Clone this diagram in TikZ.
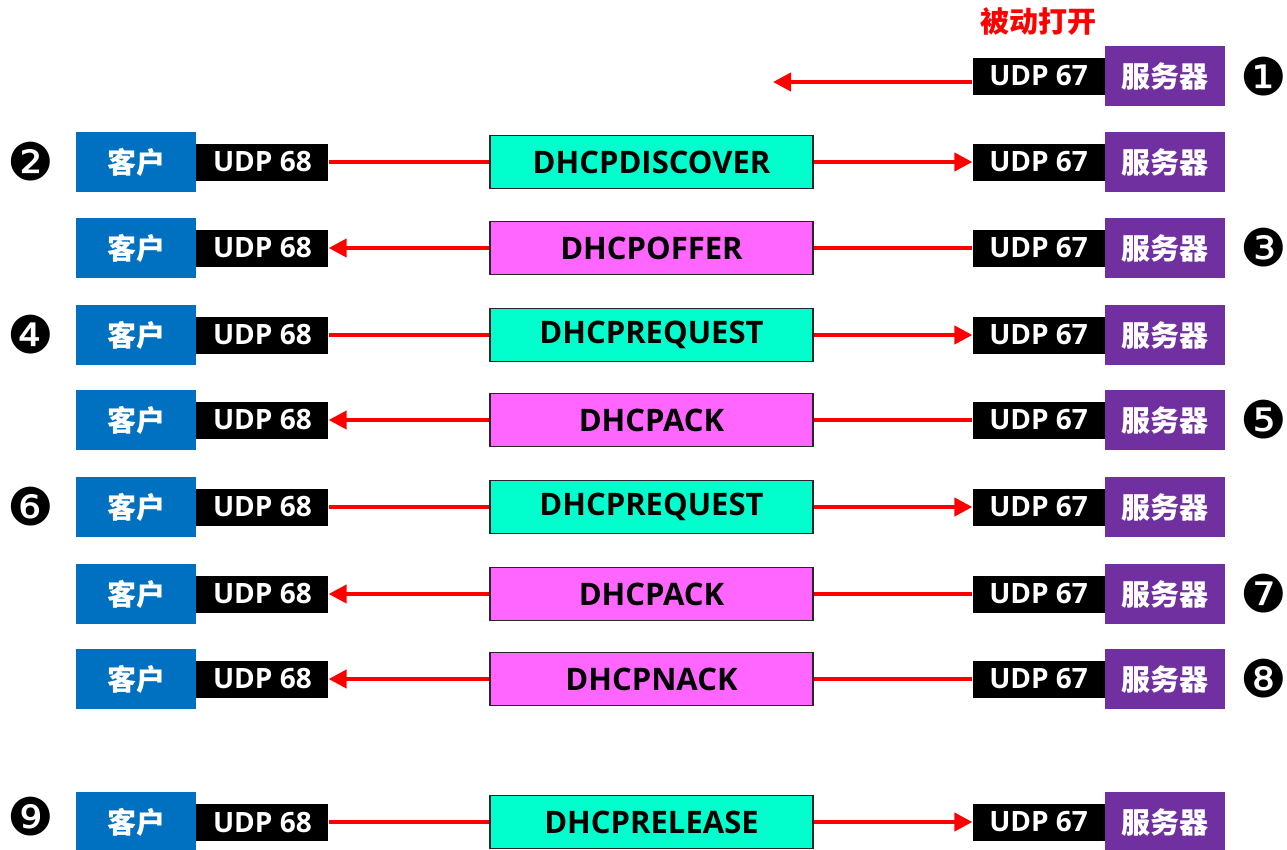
\documentclass[tikz,border=0pt]{standalone}
\usepackage{fontspec}
\setmainfont{Open Sans}
\newfontfamily\cjk{Noto Sans CJK SC}
\newfontfamily\dejavu{DejaVu Sans}
\usetikzlibrary{arrows.meta}
\definecolor{cblue}{HTML}{0070C0}
\definecolor{spurple}{HTML}{7030A0}
\definecolor{mgreen}{HTML}{00FFCC}
\definecolor{mpink}{HTML}{FF66FF}
\begin{document}
\begin{tikzpicture}[x=1pt,y=-1pt,
 client/.style={fill=cblue,text=white,minimum width=120pt,minimum height=60pt,inner sep=0pt,font=\cjk\bfseries\fontsize{29}{31}\selectfont},
 server/.style={fill=spurple,text=white,minimum width=120pt,minimum height=60pt,inner sep=0pt,font=\cjk\bfseries\fontsize{29}{31}\selectfont},
 udp/.style={fill=black,text=white,minimum width=132pt,minimum height=37pt,inner sep=0pt,font=\bfseries\fontsize{28}{30}\selectfont},
 msg/.style={draw=black!85,line width=1.2pt,minimum width=323pt,minimum height=53pt,inner sep=0pt,font=\bfseries\fontsize{31}{33}\selectfont},
 ln/.style={red,line width=4pt},
 arr/.style={red,line width=4pt,-{Triangle[length=18pt,width=18pt]}},
 num/.style={font=\dejavu\fontsize{52}{54}\selectfont,inner sep=0pt},
 lbl/.style={text=red,font=\cjk\bfseries\fontsize{29}{31}\selectfont,inner sep=0pt}
]
\clip (0,0) rectangle (1287,849);
\fill[white] (0,0) rectangle (1287,849);
% row 1
\node[server] (s0) at (1165,76) {服务器};
\node[udp,anchor=east] (v0) at (s0.west) {UDP 67};
\node[num] (n0) at (1264,77) {❶};
\node[lbl] (t0) at (1038,22) {被动打开};
\coordinate (e0) at (773,82);
\draw[arr] (v0.west |- e0) -- (e0);
% message rows
\foreach \y/\d/\lab/\col/\n/\nx/\ny/\k in {
 162/1/DHCPDISCOVER/mgreen/❷/31/162/1,
 248/0/DHCPOFFER/mpink/❸/1264/248/2,
 335/1/DHCPREQUEST/mgreen/❹/31/335/3,
 420/0/DHCPACK/mpink/❺/1264/420/4,
 507/1/DHCPREQUEST/mgreen/❻/31/507/5,
 594/0/DHCPACK/mpink/❼/1264/594/6,
 679/0/DHCPNACK/mpink/❽/1264/679/7,
 822/1/DHCPRELEASE/mgreen/❾/31/817/8} {
 \node[client] (c\k) at (136,\y) {客户};
 \node[udp,anchor=west] (u\k) at (c\k.east) {UDP 68};
 \node[msg,fill=\col] (m\k) at (651.5,\y) {\lab};
 \node[server] (s\k) at (1165,\y) {服务器};
 \node[udp,anchor=east] (v\k) at (s\k.west) {UDP 67};
 \node[num] (n\k) at (\nx,\ny) {\n};
 \ifnum\d=1
  \draw[ln] (u\k) -- (m\k);
  \draw[arr] (m\k) -- (v\k);
 \else
  \draw[ln] (v\k) -- (m\k);
  \draw[arr] (m\k) -- (u\k);
 \fi
}
\end{tikzpicture}
\end{document}
